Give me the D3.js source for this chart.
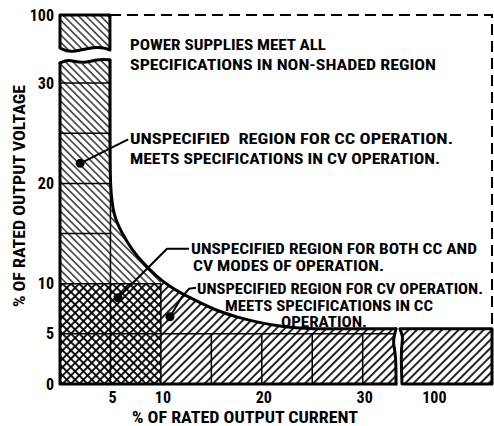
<!DOCTYPE html>
<html><head><meta charset="utf-8">
<script src="https://cdn.jsdelivr.net/npm/d3@7"></script>
<style>body{margin:0;background:#fff}svg{display:block}</style>
</head><body><svg id="c" width="494" height="426"></svg>
<script>
// ---------- data ----------
const yTicks = [0, 5, 10, 20, 30, 100];
const xTicks = [5, 10, 20, 30, 100];
// boundary curve of the shaded (unspecified) region: % current vs % voltage
const curveI = [4.95, 4.95, 4.97, 5.3, 6.1, 7.1, 8.2, 9.6, 10.9, 11.9, 13.9, 15.8, 17.8, 19.8, 22.1, 24.5, 28, 33.3];
const curveV = [32.3, 24, 19.6, 16.8, 15.1, 13.4, 12.1, 10.7, 9.7, 9.1, 8.1, 7.2, 6.6, 6.1, 5.7, 5.5, 5.5, 5.5];
// grid lines inside shaded region
const hGridV = [5, 10, 15, 20, 25, 30];
const hGridTo = [33.3, 10, 5, 5, 5, 5];
const vGridI = [5, 10, 15, 20, 25, 30];
const vGridTo = [32.3, 10, 5, 5, 5, 5];
// annotation dots
const dotI = [2, 5.75, 10.9];
const dotV = [22, 8.6, 6.7];
// annotation texts
const note0 = ["POWER SUPPLIES MEET ALL", "SPECIFICATIONS IN NON-SHADED REGION"];
const note1 = ["UNSPECIFIED  REGION FOR CC OPERATION.", "MEETS SPECIFICATIONS IN CV OPERATION."];
const note2 = ["UNSPECIFIED REGION FOR BOTH CC AND", "CV MODES OF OPERATION."];
const note3 = ["UNSPECIFIED REGION FOR CV OPERATION.", "MEETS SPECIFICATIONS IN CC", "OPERATION."];
const xTitle = "% OF RATED OUTPUT CURRENT";
const yTitle = "% OF RATED OUTPUT VOLTAGE";

// ---------- font choice: narrowest installed condensed face ----------
const ctx = document.createElement("canvas").getContext("2d");
function w(fam) { ctx.font = "bold 20px " + fam; return ctx.measureText("UNSPECIFIED REGION 0123").width; }
const candidates = ["'Liberation Sans Narrow'", "'Roboto Condensed'", "'DejaVu Sans Condensed'"];
let FONT = "'DejaVu Sans',sans-serif";
for (const c of candidates) {
  if (w(c + ",monospace") !== w("monospace")) { FONT = c + ",'DejaVu Sans',sans-serif"; break; }
}

// ---------- chart ----------
const svg = d3.select("#c");
const x = d3.scaleLinear().domain([0, 33.3, 96.8, 105.9]).range([60, 396, 400, 492]);
const y = d3.scaleLinear().domain([0, 32.3, 96.5, 100]).range([384, 60, 50, 15]);

const defs = svg.append("defs");
function hatch(id, angle, sp, sw, cross) {
  const p = defs.append("pattern").attr("id", id).attr("patternUnits", "userSpaceOnUse")
    .attr("width", sp).attr("height", sp).attr("patternTransform", `rotate(${angle})`);
  p.append("rect").attr("width", sp).attr("height", sp).attr("fill", "#fff");
  p.append("line").attr("x1", -1).attr("x2", sp + 1).attr("y1", sp / 2).attr("y2", sp / 2)
    .attr("stroke", "#000").attr("stroke-width", sw);
  if (cross) p.append("line").attr("y1", -1).attr("y2", sp + 1).attr("x1", sp / 2).attr("x2", sp / 2)
    .attr("stroke", "#000").attr("stroke-width", sw);
}
hatch("back", 45, 5.2, 1.2, false);
hatch("fwd", -45, 5.9, 1.7, false);
hatch("cross", 45, 5.9, 1.8, true);

// outline of main shaded area
const wave = d3.line().curve(d3.curveBasis);
const curvePts = curveI.map((v, i) => [x(v), y(curveV[i])]);
const curveD = d3.line().curve(d3.curveBasis)(curvePts);
const x0 = x(0), x5 = x(4.95), yb = y(0), yt = y(32.3);
const xr = x(33.3), yr = y(5.5);
const topWave = [[x0, yt + 3], [x0 + 8, yt - 1], [x0 + 22, yt + 4], [x0 + 38, yt - 1], [x5, yt]];
const rightWave = [[xr, yr], [xr - 2, yr + 8], [xr - 3, yr + 14], [xr, yr + 26], [xr, yb]];
const mainD = "M" + x0 + "," + yb + "L" + topWave.map(p => p.join(",")).join("L") +
  curveD.replace(/^M/, "L") + rightWave.map(p => "L" + p.join(",")).join("") + "Z";

defs.append("clipPath").attr("id", "mainClip").append("path").attr("d", mainD);
const g = svg.append("g").attr("clip-path", "url(#mainClip)");
g.append("rect").attr("x", x(0)).attr("y", y(32.3) - 10).attr("width", x(10) - x(0)).attr("height", y(0) - y(32.3) + 10).attr("fill", "url(#back)");
g.append("rect").attr("x", x(10)).attr("y", y(32.3)).attr("width", x(33.3) - x(10) + 5).attr("height", y(0) - y(32.3)).attr("fill", "url(#fwd)");
g.append("rect").attr("x", x(0)).attr("y", y(10)).attr("width", x(10) - x(0)).attr("height", y(0) - y(10)).attr("fill", "url(#cross)");

// upper fragment (100 %)
const ufTop = y(100);
const ufWave = [[x0, y(96.5) - 2], [x0 + 10, y(96.5) + 3], [x0 + 27, y(96.5) - 2], [x0 + 43, y(96.5) - 3], [x5, y(96.5)]];
const ufD = "M" + x0 + "," + ufTop + "L" + x5 + "," + ufTop + "L" + x5 + "," + y(96.5) +
  wave(ufWave.slice().reverse()).replace(/^M/, "L") + "Z";
svg.append("path").attr("d", ufD).attr("fill", "url(#back)").attr("stroke", "#000").attr("stroke-width", 3).attr("stroke-linejoin", "round");

// right fragment (100 %)
const rfx = x(96.8), rfr = x(105.9);
const rfWave = [[rfx, yr], [rfx + 3, yr + 8], [rfx + 2, yr + 14], [rfx + 1, yr + 26], [rfx + 2, yb]];
const rfD = "M" + rfr + "," + yr + wave(rfWave).replace(/^M/, "L") + "L" + rfr + "," + yb + "Z";
svg.append("path").attr("d", rfD).attr("fill", "url(#fwd)").attr("stroke", "#000").attr("stroke-width", 3).attr("stroke-linejoin", "round");

// grid lines
hGridV.forEach((v, i) => svg.append("line").attr("x1", x(0)).attr("x2", x(hGridTo[i]))
  .attr("y1", y(v)).attr("y2", y(v)).attr("stroke", "#000").attr("stroke-width", 1.5));
vGridI.forEach((v, i) => svg.append("line").attr("x1", x(v)).attr("x2", x(v))
  .attr("y1", y(0)).attr("y2", y(vGridTo[i])).attr("stroke", "#000").attr("stroke-width", 1.5));

// thick outlines
const thick = d => svg.append("path").attr("d", d).attr("fill", "none").attr("stroke", "#000")
  .attr("stroke-width", 3).attr("stroke-linejoin", "round").attr("stroke-linecap", "round");
thick(wave(topWave));
thick(curveD);
thick(wave(rightWave));
thick(`M${x0},${yt + 3}L${x0},${yb}L${xr},${yb}`);

// dashed frame of non-shaded region
svg.append("path").attr("d", `M${x5},${y(100)}L${x(105.9)},${y(100)}L${x(105.9)},${yr}`)
  .attr("fill", "none").attr("stroke", "#000").attr("stroke-width", 2).attr("stroke-dasharray", "11,6");

// tick labels
svg.append("g").selectAll("text").data(yTicks).join("text")
  .attr("x", 54).attr("y", d => y(d) + 5.5).attr("text-anchor", "end")
  .attr("font-family", FONT).attr("font-weight", "bold").attr("font-size", 16).text(d => d);
svg.append("g").selectAll("text").data(xTicks).join("text")
  .attr("x", d => x(d) + 2).attr("y", 403).attr("text-anchor", "middle")
  .attr("font-family", FONT).attr("font-weight", "bold").attr("font-size", 16).text(d => d);

// text group helper: one common size that fits every line, then exact width
function textGroup(items, maxSize) {
  const sels = items.map(it => {
    const s = svg.append("text").attr("font-family", FONT).attr("font-weight", "bold")
      .attr("font-size", maxSize).attr("xml:space", "preserve").text(it.t);
    if (it.tr) s.attr("transform", it.tr).attr("text-anchor", "middle");
    else s.attr("x", it.x).attr("y", it.y).attr("text-anchor", it.anchor || "start");
    return s;
  });
  let k = 1;
  sels.forEach((s, i) => { k = Math.min(k, items[i].w / s.node().getComputedTextLength()); });
  const size = maxSize * k;
  sels.forEach((s, i) => s.attr("font-size", size.toFixed(2))
    .attr("textLength", items[i].w).attr("lengthAdjust", "spacingAndGlyphs"));
}

// axis titles
textGroup([
  { t: xTitle, x: 245, y: 423, anchor: "middle", w: 226 },
  { t: yTitle, tr: "translate(25,196) rotate(-90)", w: 222 }
], 16);

// annotations
textGroup([
  { t: note0[0], x: 130, y: 50, w: 196 },
  { t: note0[1], x: 130, y: 70, w: 306 },
  { t: note1[0], x: 130, y: 144, w: 323 },
  { t: note1[1], x: 130, y: 164, w: 310 },
  { t: note2[0], x: 191, y: 254, w: 286 },
  { t: note2[1], x: 193, y: 271, w: 191 },
  { t: note3[0], x: 197, y: 294, w: 286 },
  { t: note3[1], x: 225, y: 310.5, w: 208 },
  { t: note3[2], x: 281, y: 327, w: 86 }
], 14);

// leaders and dots
const leaders = [
  [[0, 0], [48, -24]],
  [[0, 0], [49, -49], [71, -49]],
  [[0, 0], [12, -20], [19, -28], [26, -29]]
];
dotI.forEach((v, i) => {
  const cx = x(v), cy = y(dotV[i]);
  svg.append("path").attr("d", d3.line()(leaders[i].map(p => [cx + p[0], cy + p[1]])))
    .attr("fill", "none").attr("stroke", "#000").attr("stroke-width", 2).attr("stroke-linejoin", "round");
  svg.append("circle").attr("cx", cx).attr("cy", cy).attr("r", 4.5).attr("fill", "#000");
});
</script></body></html>
